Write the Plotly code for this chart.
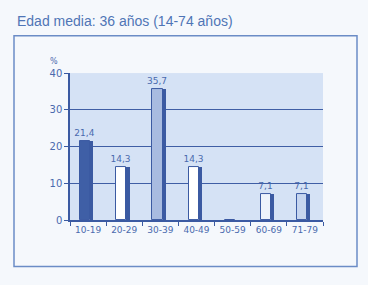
import plotly.graph_objects as go

categories = ["10-19", "20-29", "30-39", "40-49", "50-59", "60-69", "71-79"]
values = [21.4, 14.3, 35.7, 14.3, 0, 7.1, 7.1]
labels = ["21,4", "14,3", "35,7", "14,3", "", "7,1", "7,1"]
front_colors = ["#3f5fa6", "#ffffff", "#a8bbe0", "#ffffff", "#ffffff", "#eef3fb", "#c6d5ef"]
y_ticks = [0, 10, 20, 30, 40]

W, H = 368, 285
blue = "#4a6aae"

fig = go.Figure()
# side (depth) face of each bar
fig.add_trace(go.Bar(
    x=categories, y=values, width=0.09, offset=0.06,
    marker=dict(color="#3b5aa2", line=dict(width=0)),
    hoverinfo="skip", showlegend=False))
# front face
fig.add_trace(go.Bar(
    x=categories, y=values, width=0.28, offset=-0.22,
    marker=dict(color=front_colors, line=dict(color="#3b5aa2", width=1)),
    text=labels, textposition="outside", cliponaxis=False, constraintext="none",
    textfont=dict(family="DejaVu Sans", size=9, color=blue),
    showlegend=False))

x0, x1 = 70 / W, 323 / W
y0, y1 = 1 - 223.5 / H, 1 - 70 / H

fig.update_layout(
    width=W, height=H,
    margin=dict(l=0, r=0, t=0, b=0),
    paper_bgcolor="#f5f8fc",
    plot_bgcolor="#d5e2f5",
    barmode="overlay",
    bargap=0,
    xaxis=dict(domain=[x0, x1], type="category", showgrid=False,
               showline=True, linecolor="#3b5aa2", linewidth=1.5,
               ticks="outside", tickson="boundaries", ticklen=4, tickcolor="#3b5aa2",
               tickfont=dict(family="DejaVu Sans", size=9, color=blue)),
    yaxis=dict(domain=[y0, y1], range=[0, 40], tickvals=y_ticks,
               showgrid=True, gridcolor="#3f5ea5", gridwidth=1,
               showline=True, linecolor="#3b5aa2", linewidth=1.5,
               ticks="outside", ticklen=4, tickcolor="#3b5aa2",
               tickfont=dict(family="DejaVu Sans", size=10, color=blue),
               zeroline=False),
    separators=",.",
    shapes=[dict(type="rect", xref="paper", yref="paper",
                 x0=14 / W, x1=357 / W, y0=1 - 272 / H, y1=1 - 31 / H,
                 line=dict(color="#6b8cc6", width=1.5), layer="below")],
    annotations=[
        dict(text="Edad media: 36 años (14-74 años)", xref="paper", yref="paper",
             x=15 / W, y=1 - 5 / H, xanchor="left", yanchor="top", showarrow=False,
             font=dict(family="Liberation Sans", size=14, color="#4f75b6")),
        dict(text="%", xref="paper", yref="paper", x=54 / W, y=1 - 58 / H,
             xanchor="center", yanchor="middle", showarrow=False,
             font=dict(family="DejaVu Sans", size=8, color=blue)),
    ],
)

fig.write_html("out.html")
